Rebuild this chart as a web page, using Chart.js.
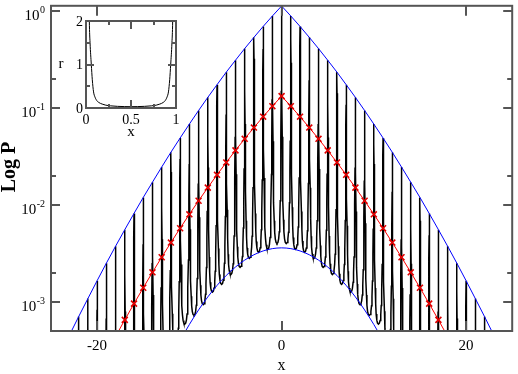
<!DOCTYPE html>
<html>
<head>
<meta charset="utf-8">
<script src="https://cdn.jsdelivr.net/npm/chart.js@4.4.0/dist/chart.umd.min.js"></script>
<style>
body { margin: 0; background: #fff; }
#wrap { position: relative; width: 518px; height: 374px; }
#main, #inset { position: absolute; left: 0; top: 0; }
</style>
</head>
<body>
<div id="wrap">
<canvas id="main" width="518" height="374"></canvas>
<canvas id="inset" width="200" height="150"></canvas>
</div>
<script>
// spike tops / upper envelope, at integer x
var peakX = [-25,-24,-23,-22,-21,-20,-19,-18,-17,-16,-15,-14,-13,-12,-11,-10,-9,-8,-7,-6,-5,-4,-3,-2,-1,
	0,1,2,3,4,5,6,7,8,9,10,11,12,13,14,15,16,17,18,19,20,21,22,23,24,25];
var peakP = [0.000183,0.000289,0.000453,0.000704,0.00108,0.00165,0.00250,0.00374,0.00554,0.00815,0.0119,0.0171,0.0245,0.0348,0.0488,0.0679,0.0937,0.128,0.173,0.233,0.309,0.408,0.532,0.689,0.883,
	1.12,0.883,0.689,0.532,0.408,0.309,0.233,0.173,0.128,0.0937,0.0679,0.0488,0.0348,0.0245,0.0171,0.0119,0.00815,0.00554,0.00374,0.00250,0.00165,0.00108,0.000704,0.000453,0.000289,0.000183];

// bottoms of the troughs, at half-integer x
var troughX = [-24.5,-23.5,-22.5,-21.5,-20.5,-19.5,-18.5,-17.5,-16.5,-15.5,-14.5,-13.5,-12.5,-11.5,-10.5,-9.5,-8.5,-7.5,-6.5,-5.5,-4.5,-3.5,-2.5,-1.5,-0.5,
	0.5,1.5,2.5,3.5,4.5,5.5,6.5,7.5,8.5,9.5,10.5,11.5,12.5,13.5,14.5,15.5,16.5,17.5,18.5,19.5,20.5,21.5,22.5,23.5,24.5];
var troughP = [6.5e-8,1.6e-7,3.6e-7,7.9e-7,1.7e-6,3.5e-6,7.1e-6,1.4e-5,2.5e-5,4.6e-5,7.9e-5,0.000132,0.000209,0.000324,0.000589,0.000724,0.000933,0.00126,0.00151,0.00191,0.00226,0.00280,0.00324,0.00348,0.00398,
	0.00398,0.00348,0.00324,0.00280,0.00226,0.00191,0.00151,0.00126,0.000933,0.000724,0.000589,0.000324,0.000209,0.000132,7.9e-5,4.6e-5,2.5e-5,1.4e-5,7.1e-6,3.5e-6,1.7e-6,7.9e-7,3.6e-7,1.6e-7,6.5e-8];

// shape of one tooth: distance from the spike, and how far down (in log) it has fallen
var toothD = [0, 0.01, 0.02, 0.04, 0.07, 0.1, 0.15, 0.2, 0.25, 0.32, 0.4, 0.5];
var toothF = [0, 0.10, 0.2, 0.36, 0.55, 0.68, 0.82, 0.9, 0.95, 0.98, 0.995, 1];

// red curve with markers
var redX = [-19,-18,-17,-16,-15,-14,-13,-12,-11,-10,-9,-8,-7,-6,-5,-4,-3,-2,-1,0,1,2,3,4,5,6,7,8,9,10,11,12,13,14,15,16,17,18,19];
var redP = [0.000293,0.000439,0.000651,0.000957,0.001395,0.002013,0.00288,0.00408,0.00573,0.00798,0.0110,0.01504,0.02037,0.02733,0.03635,0.0479,0.0625,0.0809,0.1038,
	0.1318,0.1038,0.0809,0.0625,0.0479,0.03635,0.02733,0.02037,0.01504,0.0110,0.00798,0.00573,0.00408,0.00288,0.002013,0.001395,0.000957,0.000651,0.000439,0.000293];

// lower blue envelope
var lowX = [-12,-11,-10,-9,-8,-7,-6,-5,-4,-3,-2,-1,0,1,2,3,4,5,6,7,8,9,10,11,12];
var lowP = [0.000262,0.000398,0.000583,0.000824,0.001123,0.001475,0.001869,0.002283,0.00269,0.003054,0.003344,0.003532,0.003597,
	0.003532,0.003344,0.003054,0.00269,0.002283,0.001869,0.001475,0.001123,0.000824,0.000583,0.000398,0.000262];

var xTicks = [-20, 0, 20];
var yTicks = [1, 0.1, 0.01, 0.001];
var yExp = ['0', '-1', '-2', '-3'];
var yMinor = [0.2, 0.02, 0.002];

// inset r(x)
var insetX = [0.02,0.037,0.045,0.059,0.07,0.084,0.1,0.12,0.14,0.18,0.22,0.27,0.35,0.43,0.5,0.57,0.65,0.73,0.78,0.82,0.86,0.88,0.9,0.916,0.93,0.941,0.955,0.963,0.98];
var insetR = [5,2,1.5,1,0.65,0.37,0.25,0.17,0.13,0.09,0.065,0.05,0.038,0.032,0.03,0.032,0.038,0.05,0.065,0.09,0.13,0.17,0.25,0.37,0.65,1,1.5,2,5];
var insetXTicks = [0, 0.5, 1], insetXLabels = ['0', '0.5', '1'], insetXMinor = [0.25, 0.75];
var insetYTicks = [0, 1, 2], insetYMinor = [0.5, 1.5];

var serif = "'Liberation Serif', 'Times New Roman', serif";

function pts(xs, ys) {
	var out = [];
	for (var i = 0; i < xs.length; i++) out.push({x: xs[i], y: ys[i]});
	return out;
}

// black curve built from spike tops, trough bottoms and the tooth shape
var black = [];
for (var i = 0; i < troughX.length; i++) {
	var lp = Math.log10(peakP[i]), rp = Math.log10(peakP[i + 1]), lt = Math.log10(troughP[i]);
	for (var k = (i == 0 ? 0 : 1); k < toothD.length; k++)
		black.push({x: peakX[i] + toothD[k], y: Math.pow(10, lp + toothF[k] * (lt - lp))});
	for (var k = toothD.length - 2; k >= 0; k--)
		black.push({x: peakX[i + 1] - toothD[k], y: Math.pow(10, rp + toothF[k] * (lt - rp))});
}

var mainAxes = {
	id: 'mainAxes',
	afterDraw: function(chart) {
		var ctx = chart.ctx, a = chart.chartArea, xs = chart.scales.x, ys = chart.scales.y;
		ctx.save();
		ctx.strokeStyle = '#555';
		ctx.lineWidth = 2;
		ctx.strokeRect(a.left, a.top, a.right - a.left, a.bottom - a.top);
		ctx.beginPath();
		xTicks.forEach(function(v) {
			var px = Math.round(xs.getPixelForValue(v));
			ctx.moveTo(px, a.bottom); ctx.lineTo(px, a.bottom - 10);
			ctx.moveTo(px, a.top); ctx.lineTo(px, a.top + 10);
		});
		yTicks.forEach(function(v) {
			var py = Math.round(ys.getPixelForValue(v));
			ctx.moveTo(a.left, py); ctx.lineTo(a.left + 9, py);
			ctx.moveTo(a.right, py); ctx.lineTo(a.right - 9, py);
		});
		yMinor.forEach(function(v) {
			var py = Math.round(ys.getPixelForValue(v));
			ctx.moveTo(a.left, py); ctx.lineTo(a.left + 5, py);
			ctx.moveTo(a.right, py); ctx.lineTo(a.right - 5, py);
		});
		ctx.stroke();

		ctx.fillStyle = '#000';
		ctx.font = '15px ' + serif;
		ctx.textAlign = 'center';
		ctx.textBaseline = 'alphabetic';
		xTicks.forEach(function(v) {
			ctx.fillText(String(v), xs.getPixelForValue(v), 350);
		});
		yTicks.forEach(function(v, i) {
			var py = ys.getPixelForValue(v);
			ctx.font = '10px ' + serif;
			ctx.textAlign = 'right';
			var w = ctx.measureText(yExp[i]).width;
			ctx.fillText(yExp[i], a.left - 6, py + 2);
			ctx.font = '15px ' + serif;
			ctx.fillText('10', a.left - 6 - w - 0.5, py + 9);
		});
		ctx.textAlign = 'center';
		ctx.font = '16px ' + serif;
		ctx.fillText('x', (a.left + a.right) / 2, 370);
		ctx.translate(15, 167);
		ctx.rotate(-Math.PI / 2);
		ctx.font = 'bold 20px ' + serif;
		ctx.fillText('Log P', 0, 0);
		ctx.restore();
	}
};

new Chart(document.getElementById('main'), {
	type: 'line',
	data: {
		datasets: [
			{
				label: 'mean',
				data: pts(redX, redP),
				borderColor: '#ff0000',
				borderWidth: 1,
				pointStyle: 'crossRot',
				pointRadius: 4.2,
				pointBorderWidth: 1.6,
				pointBorderColor: '#e00000',
				pointBackgroundColor: '#e00000',
				order: 0
			},
			{
				label: 'upper',
				data: pts(peakX, peakP),
				borderColor: '#0000ff',
				borderWidth: 1,
				pointRadius: 0,
				order: 1
			},
			{
				label: 'lower',
				data: pts(lowX, lowP),
				borderColor: '#0000ff',
				borderWidth: 1,
				pointRadius: 0,
				cubicInterpolationMode: 'monotone',
				order: 1
			},
			{
				label: 'P',
				data: black,
				borderColor: '#000000',
				borderWidth: 1.5,
				pointRadius: 0,
				order: 2
			}
		]
	},
	options: {
		responsive: false,
		animation: false,
		devicePixelRatio: 1,
		events: [],
		layout: { padding: { left: 51, top: 5, right: 1, bottom: 43 } },
		plugins: { legend: { display: false }, tooltip: { enabled: false } },
		scales: {
			x: { type: 'linear', min: -25, max: 25, display: false },
			y: { type: 'logarithmic', min: 5e-4, max: 1.125, display: false }
		}
	},
	plugins: [mainAxes]
});

var insetAxes = {
	id: 'insetAxes',
	afterDraw: function(chart) {
		var ctx = chart.ctx, a = chart.chartArea, xs = chart.scales.x, ys = chart.scales.y;
		ctx.save();
		ctx.strokeStyle = '#555';
		ctx.lineWidth = 2;
		ctx.strokeRect(a.left, a.top, a.right - a.left, a.bottom - a.top);
		ctx.beginPath();
		insetXTicks.forEach(function(v) {
			var px = Math.round(xs.getPixelForValue(v));
			ctx.moveTo(px, a.bottom); ctx.lineTo(px, a.bottom - 8);
			ctx.moveTo(px, a.top); ctx.lineTo(px, a.top + 8);
		});
		insetXMinor.forEach(function(v) {
			var px = Math.round(xs.getPixelForValue(v));
			ctx.moveTo(px, a.bottom); ctx.lineTo(px, a.bottom - 4);
			ctx.moveTo(px, a.top); ctx.lineTo(px, a.top + 4);
		});
		insetYTicks.forEach(function(v) {
			var py = Math.round(ys.getPixelForValue(v));
			ctx.moveTo(a.left, py); ctx.lineTo(a.left + 8, py);
			ctx.moveTo(a.right, py); ctx.lineTo(a.right - 8, py);
		});
		insetYMinor.forEach(function(v) {
			var py = Math.round(ys.getPixelForValue(v));
			ctx.moveTo(a.left, py); ctx.lineTo(a.left + 4, py);
			ctx.moveTo(a.right, py); ctx.lineTo(a.right - 4, py);
		});
		ctx.stroke();

		ctx.fillStyle = '#000';
		ctx.font = '14px ' + serif;
		ctx.textAlign = 'center';
		ctx.textBaseline = 'alphabetic';
		insetXTicks.forEach(function(v, i) {
			ctx.fillText(insetXLabels[i], xs.getPixelForValue(v), a.bottom + 16);
		});
		ctx.textAlign = 'right';
		ctx.textBaseline = 'middle';
		insetYTicks.forEach(function(v) {
			ctx.fillText(String(v), a.left - 3, ys.getPixelForValue(v) + 1);
		});
		ctx.textAlign = 'center';
		ctx.font = '15px ' + serif;
		ctx.fillText('r', 61, (a.top + a.bottom) / 2);
		ctx.fillText('x', (a.left + a.right) / 2, 132);
		ctx.restore();
	}
};

new Chart(document.getElementById('inset'), {
	type: 'line',
	data: {
		datasets: [{
			label: 'r',
			data: pts(insetX, insetR),
			borderColor: '#000000',
			borderWidth: 1,
			pointRadius: 0,
			cubicInterpolationMode: 'monotone'
		}]
	},
	options: {
		responsive: false,
		animation: false,
		devicePixelRatio: 1,
		events: [],
		layout: { padding: { left: 86, top: 21, right: 24, bottom: 42 } },
		plugins: { legend: { display: false }, tooltip: { enabled: false } },
		scales: {
			x: { type: 'linear', min: 0, max: 1, display: false },
			y: { type: 'linear', min: 0, max: 2, display: false }
		}
	},
	plugins: [insetAxes]
});
</script>
</body>
</html>
